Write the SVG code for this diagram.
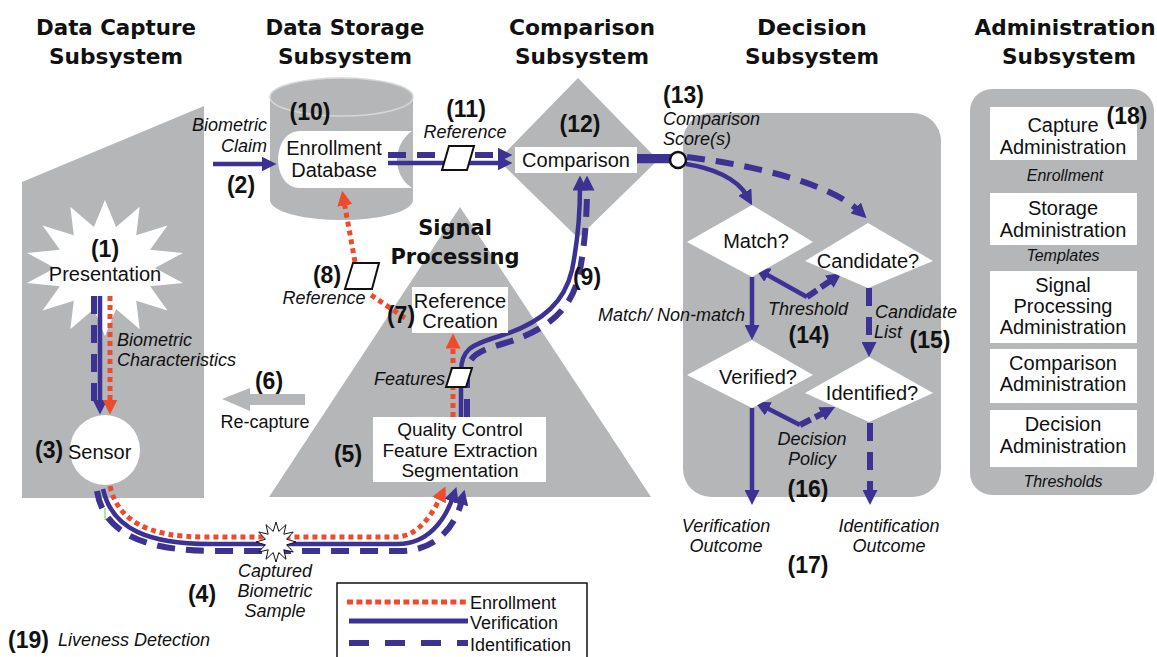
<svg xmlns="http://www.w3.org/2000/svg" width="1157" height="657" viewBox="0 0 1157 657">
<defs>
<marker id="ap" markerUnits="userSpaceOnUse" viewBox="0 0 10 10" markerWidth="15" markerHeight="15" refX="3" refY="5" orient="auto"><path d="M0,0 L10,5 L0,10 z" fill="#3c3293"/></marker>
<marker id="ar" markerUnits="userSpaceOnUse" viewBox="0 0 10 10" markerWidth="15" markerHeight="15" refX="3" refY="5" orient="auto"><path d="M0,0 L10,5 L0,10 z" fill="#ef4a2b"/></marker>
</defs>
<style>
.bg{fill:#b4b6b8}
.wb{fill:#fff}
.t{font-family:"Liberation Sans",Arial,sans-serif;font-size:20px;fill:#111;text-anchor:middle}
.i{font-style:italic;font-size:18px}
.s{font-size:16px}
.n{font-weight:bold;font-size:23px}
.st{text-anchor:start}
.en{text-anchor:end}
.h{font-family:"DejaVu Sans",sans-serif;font-weight:bold;font-size:22px;text-anchor:middle;fill:#111}
.sol{fill:none;stroke:#3c3293;stroke-width:4.5}
.dsh{fill:none;stroke:#3c3293;stroke-width:6;stroke-dasharray:18 11}
.dot{fill:none;stroke:#ef4a2b;stroke-width:5;stroke-dasharray:5 4}
.pg{fill:#fff;stroke:#111;stroke-width:2}
</style>
<rect width="1157" height="657" fill="#fff"/>

<!-- titles -->
<g id="titles">
<text class="h" x="116" y="35" textLength="160" lengthAdjust="spacingAndGlyphs">Data Capture</text>
<text class="h" x="116" y="64" textLength="134" lengthAdjust="spacingAndGlyphs">Subsystem</text>
<text class="h" x="345" y="35" textLength="159" lengthAdjust="spacingAndGlyphs">Data Storage</text>
<text class="h" x="345" y="64" textLength="134" lengthAdjust="spacingAndGlyphs">Subsystem</text>
<text class="h" x="582" y="35" textLength="146" lengthAdjust="spacingAndGlyphs">Comparison</text>
<text class="h" x="582" y="64" textLength="134" lengthAdjust="spacingAndGlyphs">Subsystem</text>
<text class="h" x="812" y="35" textLength="110" lengthAdjust="spacingAndGlyphs">Decision</text>
<text class="h" x="812" y="64" textLength="134" lengthAdjust="spacingAndGlyphs">Subsystem</text>
<text class="h" x="1065" y="35" textLength="181" lengthAdjust="spacingAndGlyphs">Administration</text>
<text class="h" x="1069" y="64" textLength="134" lengthAdjust="spacingAndGlyphs">Subsystem</text>
</g>

<!-- subsystem backgrounds -->
<g id="data-capture-bg"><polygon class="bg" points="22,182 204,106 204,498 22,498"/></g>
<g id="signal-processing-bg"><polygon class="bg" points="460,207 651,497 269,497"/>
<text class="h" x="455" y="235" style="font-size:21px">Signal</text>
<text class="h" x="455" y="264" style="font-size:21px">Processing</text></g>
<g id="comparison-bg"><polygon class="bg" points="578,78 658,160 578,238 498,160"/></g>
<g id="decision-bg"><rect class="bg" x="683" y="113" width="258" height="384" rx="28"/></g>
<g id="admin-bg"><rect class="bg" x="970" y="89" width="184" height="406" rx="22"/></g>

<g id="presentation">
<polygon fill="#fff" points="105,200 116.1,227.1 139.7,206.7 136.2,235.2 167.5,225.6 150.1,249.8 183,252.9 155,268 183,283.1 150.1,286.2 167.5,310.4 136.2,300.8 139.7,329.3 116.1,308.9 105,336 93.9,308.9 70.3,329.3 73.8,300.8 42.5,310.4 59.9,286.2 27,283.1 55,268 27,252.9 59.9,249.8 42.5,225.6 73.8,235.2 70.3,206.7 93.9,227.1"/>
<text class="t n" x="105" y="257">(1)</text>
<text class="t" x="105" y="281">Presentation</text>
</g>

<g id="database">
<rect class="bg" x="270" y="97" width="143" height="103"/>
<ellipse class="bg" cx="341.5" cy="200" rx="71.5" ry="20"/>
<ellipse class="bg" cx="341.5" cy="97" rx="71.5" ry="19" stroke="#d6d7d8" stroke-width="1.5"/>
<path class="wb" d="M300,131 H412 C392,145 392,175 412,188 H300 C271,188 271,131 300,131 Z"/>
<text class="t" x="334" y="155">Enrollment</text>
<text class="t" x="334" y="177">Database</text>
<text class="t n" x="310" y="120">(10)</text>
</g>

<!-- connectors -->
<g id="connectors">
<path class="dsh" d="M94,296 L94,410"/>
<path class="sol" d="M100,296 L100,404" marker-end="url(#ap)"/>
<path class="dot" d="M110,296 L110,404" marker-end="url(#ar)"/>
<path class="dot" d="M110,486 C118,522 150,537 205,537 L395,537 C418,537 432,515 441,496" marker-end="url(#ar)"/>
<path class="sol" d="M103,489 C112,530 150,544 210,544 L398,544 C428,544 445,520 453,497" marker-end="url(#ap)"/>
<path class="dsh" d="M97,491 C104,536 150,551 215,551 L400,551 C435,551 455,528 462,500" marker-end="url(#ap)"/>
<line x1="105" y1="508" x2="105" y2="520" stroke="#7cc242" stroke-width="1"/>
<polygon fill="#b4b6b8" points="305,394 250,394 250,388 222,399 250,411 250,405 305,405"/>
<path class="sol" d="M213,164 L266,164" marker-end="url(#ap)"/>
<path class="dsh" d="M388,155 L502,155" marker-end="url(#ap)"/>
<path class="sol" d="M388,163 L502,163" marker-end="url(#ap)"/>
<path class="dot" d="M453,417 L453,344" marker-end="url(#ar)"/>
<path class="dot" d="M405,318 L368,293 M355,262 L344,201" marker-end="url(#ar)"/>
<path class="sol" d="M461,417 L461,372 C461,350 470,345 500,336 C545,322 565,300 572,270 C578,240 580,210 580,186" marker-end="url(#ap)"/>
<path class="dsh" d="M467,417 L467,375 C467,356 478,351 505,343 C552,329 572,306 579,275 C585,245 587,215 587,186" marker-end="url(#ap)"/>
<path class="sol" d="M637,161 L672,161"/>
<path class="dsh" d="M637,157 L672,157" style="stroke-dasharray:none"/>
<path class="sol" d="M686,164 C712,168 737,178 747,196" marker-end="url(#ap)"/>
<path class="dsh" d="M687,157 C760,166 832,185 859,211" marker-end="url(#ap)"/>
<path class="sol" d="M807,297 L764,273" marker-end="url(#ap)"/>
<path class="dsh" d="M807,297 L833,279" style="stroke-dasharray:12 5" marker-end="url(#ap)"/>
<path class="sol" d="M752,277 L752,329.5" marker-end="url(#ap)"/>
<path class="dsh" d="M869,288 L869,346.5" marker-end="url(#ap)"/>
<path class="sol" d="M800,425 L764.4,406.8" marker-end="url(#ap)"/>
<path class="dsh" d="M800,425 L825.7,411.8" style="stroke-dasharray:12 5" marker-end="url(#ap)"/>
<path class="sol" d="M752,408 L752,494.5" marker-end="url(#ap)"/>
<path class="dsh" d="M870,423 L870,494.5" marker-end="url(#ap)"/>
</g>

<g id="sensor">
<circle cx="105" cy="450" r="35" fill="#fff"/>
<text class="t n st" x="35" y="458">(3)</text>
<text class="t st" x="68" y="459">Sensor</text>
</g>

<g id="captured-sample">
<polygon fill="#fff" stroke="#111" stroke-width="1" points="276,522 278.8,531.4 286,524.7 283.8,534.2 293.3,532 286.6,539.2 296,542 286.6,544.8 293.3,552 283.8,549.8 286,559.3 278.8,552.6 276,562 273.2,552.6 266,559.3 268.2,549.8 258.7,552 265.4,544.8 256,542 265.4,539.2 258.7,532 268.2,534.2 266,524.7 273.2,531.4"/>
<text class="t i" x="275" y="577">Captured</text>
<text class="t i" x="275" y="597">Biometric</text>
<text class="t i" x="275" y="617">Sample</text>
<text class="t n" x="202" y="602">(4)</text>
</g>

<g id="labels-capture">
<text class="t i en" x="267" y="131">Biometric</text>
<text class="t i en" x="267" y="152">Claim</text>
<text class="t n" x="241" y="193">(2)</text>
<text class="t i st" x="117" y="346">Biometric</text>
<text class="t i st" x="117" y="366">Characteristics</text>
<text class="t n" x="269" y="389">(6)</text>
<text class="t" x="265" y="428" style="font-size:18px">Re-capture</text>
<text class="t n st" x="8" y="648">(19)</text>
<text class="t i st" x="58" y="646">Liveness Detection</text>
</g>

<g id="reference-11">
<polygon class="pg" points="449,146 474,146 467,170 442,170"/>
<text class="t n" x="466" y="117">(11)</text>
<text class="t i" x="465" y="138">Reference</text>
</g>

<g id="reference-8">
<polygon class="pg" points="353,263 379,263 372,289 345,289"/>
<text class="t n" x="327" y="283">(8)</text>
<text class="t i" x="324" y="304">Reference</text>
</g>

<g id="reference-creation">
<rect class="wb" x="412" y="287" width="96" height="46"/>
<text class="t" x="460" y="308">Reference</text>
<text class="t" x="460" y="328">Creation</text>
<text class="t n" x="401" y="323">(7)</text>
</g>

<g id="features">
<polygon class="pg" points="452,368 472,368 466,387 446,387"/>
<text class="t i en" x="445" y="385">Features</text>
</g>

<g id="quality-control">
<rect class="wb" x="373" y="417" width="173" height="65"/>
<text class="t" x="460" y="436" style="font-size:19px">Quality Control</text>
<text class="t" x="460" y="457" style="font-size:19px">Feature Extraction</text>
<text class="t" x="460" y="477" style="font-size:19px">Segmentation</text>
<text class="t n" x="348" y="462">(5)</text>
</g>

<text class="t n" x="587" y="285">(9)</text>

<g id="comparison">
<rect class="wb" x="515" y="147" width="122" height="26"/>
<text class="t" x="576" y="167">Comparison</text>
<text class="t n" x="580" y="132">(12)</text>
</g>

<g id="score">
<circle cx="678" cy="160" r="8" fill="#fff" stroke="#111" stroke-width="2.5"/>
<text class="t n st" x="663" y="103">(13)</text>
<text class="t i st" x="663" y="125">Comparison</text>
<text class="t i st" x="663" y="145">Score(s)</text>
</g>

<g id="match">
<polygon fill="#fff" points="687,242 752,205 813,242 752,277"/>
<text class="t" x="756" y="248">Match?</text>
</g>
<g id="candidate">
<polygon fill="#fff" points="805,261 868,223 933,261 868,288"/>
<text class="t" x="868" y="268">Candidate?</text>
</g>
<g id="verified">
<polygon fill="#fff" points="687,375 752,340 813,375 752,408"/>
<text class="t" x="758" y="384">Verified?</text>
</g>
<g id="identified">
<polygon fill="#fff" points="805,393 869,357 933,393 869,422"/>
<text class="t" x="872" y="400">Identified?</text>
</g>

<g id="decision-labels">
<text class="t i en" x="745" y="321">Match/ Non-match</text>
<text class="t i" x="808" y="315">Threshold</text>
<text class="t n" x="809" y="343">(14)</text>
<text class="t i st" x="875" y="318">Candidate</text>
<text class="t i st" x="874" y="338">List</text>
<text class="t n" x="930" y="348">(15)</text>
<text class="t i" x="812" y="445">Decision</text>
<text class="t i" x="812" y="465">Policy</text>
<text class="t n" x="808" y="497">(16)</text>
<text class="t i" x="726" y="532">Verification</text>
<text class="t i" x="726" y="552">Outcome</text>
<text class="t i" x="889" y="532">Identification</text>
<text class="t i" x="889" y="552">Outcome</text>
<text class="t n" x="808" y="573">(17)</text>
</g>

<g id="admin">
<rect class="wb" x="990" y="107" width="147" height="53"/>
<text class="t" x="1063" y="132">Capture</text>
<text class="t" x="1063" y="154">Administration</text>
<text class="t n" x="1127" y="124">(18)</text>
<text class="t i s" x="1065" y="181">Enrollment</text>
<rect class="wb" x="990" y="193" width="147" height="52"/>
<text class="t" x="1063" y="215">Storage</text>
<text class="t" x="1063" y="237">Administration</text>
<text class="t i s" x="1063" y="261">Templates</text>
<rect class="wb" x="990" y="271" width="147" height="72"/>
<text class="t" x="1063" y="292">Signal</text>
<text class="t" x="1063" y="313">Processing</text>
<text class="t" x="1063" y="334">Administration</text>
<rect class="wb" x="990" y="349" width="147" height="54"/>
<text class="t" x="1063" y="370">Comparison</text>
<text class="t" x="1063" y="391">Administration</text>
<rect class="wb" x="990" y="410" width="147" height="57"/>
<text class="t" x="1063" y="431">Decision</text>
<text class="t" x="1063" y="453">Administration</text>
<text class="t i s" x="1063" y="487">Thresholds</text>
</g>

<g id="legend">
<rect x="337" y="583" width="250" height="90" fill="#fff" stroke="#111" stroke-width="1.5"/>
<path d="M347,602 L467,602" fill="none" stroke="#ef4a2b" stroke-width="5" stroke-dasharray="6 3.4"/>
<path d="M349,621 L468,621" fill="none" stroke="#3c3293" stroke-width="5"/>
<path d="M349,643 L468,643" fill="none" stroke="#3c3293" stroke-width="6" stroke-dasharray="20 16"/>
<text class="t st" x="470" y="609" style="font-size:18px">Enrollment</text>
<text class="t st" x="470" y="629" style="font-size:18px">Verification</text>
<text class="t st" x="470" y="651" style="font-size:18px">Identification</text>
</g>
</svg>
